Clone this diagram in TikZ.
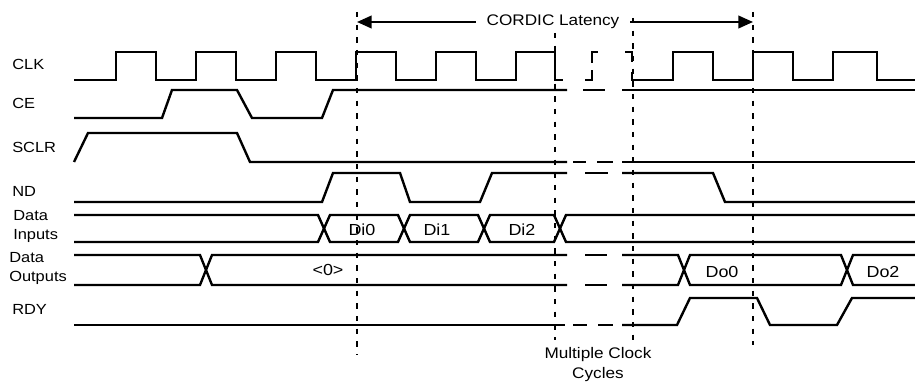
\documentclass[tikz,border=0pt]{standalone}
\usepackage{fontspec}
\setmainfont[FakeStretch=1.12]{Liberation Sans}
\usetikzlibrary{arrows.meta, positioning, calc}

\begin{document}
\begin{tikzpicture}[
  x=0.75pt, y=-0.75pt,
  wave/.style={line width=1.8pt, line join=miter},
  marker/.style={line width=1.8pt, dash pattern=on 4pt off 5.5pt},
  siglabel/.style={anchor=west, align=left, inner sep=0pt, font=\fontsize{11}{14}\selectfont},
  value/.style={inner sep=0pt, font=\fontsize{12}{14}\selectfont},
  note/.style={align=center, inner sep=0pt, font=\fontsize{11.5}{15}\selectfont}
]
  \useasboundingbox (0,0) rectangle (915,385);

  % signal names
  \node[siglabel] (clk) at (12,64) {CLK};
  \node[siglabel] (ce) at (12,103) {CE};
  \node[siglabel] (sclr) at (12,147) {SCLR};
  \node[siglabel] (nd) at (12,191) {ND};
  \node[siglabel, anchor=north west] (din) at (13,210) {Data\\Inputs};
  \node[siglabel, anchor=north west] (dout) at (9,252) {Data\\Outputs};
  \node[siglabel] (rdy) at (12,309) {RDY};

  % marker lines
  \draw[marker] (357,12) -- (357,355);
  \draw[marker] (555,33) -- (555,340);
  \draw[marker] (633,18) -- (633,345);
  \draw[marker] (753,12) -- (753,345);

  % latency arrow
  \coordinate (latstart) at (357,22);
  \coordinate (latend) at (753,22);
  \node[inner xsep=8pt, inner ysep=0pt, font=\fontsize{11.5}{14}\selectfont] (latency) at (553,22) {CORDIC Latency};
  \draw[line width=1.5pt, -{Triangle[length=11pt, width=9.5pt]}] (latency) -- (latstart);
  \draw[line width=1.5pt, -{Triangle[length=11pt, width=9.5pt]}] (latency) -- (latend);

  % CLK
  \draw[wave] (74,80) -| (116,52) -| (156,80) -| (196,52) -| (236,80) -| (276,52) -| (316,80)
    -| (356,52) -| (396,80) -| (436,52) -| (476,80) -| (516,52) -| (555,80) -- (563,80);
  \draw[wave] (585,80) -| (592,70);
  \draw[wave] (592,63) |- (598,52);
  \draw[wave] (625,52) -| (632,62);
  \draw[wave] (632,72) -- (632,80) -| (673,52) -| (713,80) -| (753,52) -| (793,80) -| (833,52)
    -| (877,80) -- (915,80);

  % CE
  \draw[wave] (74,118) -- (162,118) -- (172,90) -- (237,90) -- (252,118) -- (322,118) -- (333,90) -- (567,90);
  \draw[wave] (583,90) -- (605,90);
  \draw[wave] (622,90) -- (915,90);

  % SCLR
  \draw[wave] (74,162) -- (88,133) -- (237,133) -- (250,162) -- (567,162);
  \draw[wave] (573,162) -- (586,162);
  \draw[wave] (597,162) -- (613,162);
  \draw[wave] (622,162) -- (915,162);

  % ND
  \draw[wave] (74,202) -- (322,202) -- (333,173) -- (400,173) -- (410,202) -- (480,202) -- (492,173) -- (567,173);
  \draw[wave] (585,173) -- (608,173);
  \draw[wave] (622,173) -- (713,173) -- (725,202) -- (915,202);

  % Data Inputs
  \draw[wave] (74,215) -- (318,215) -- (324,228.5) -- (318,242) -- (74,242);
  \draw[wave] (324,228.5) -- (330,215) -- (398,215) -- (404,228.5) -- (398,242) -- (330,242) -- cycle;
  \draw[wave] (404,228.5) -- (410,215) -- (478,215) -- (484,228.5) -- (478,242) -- (410,242) -- cycle;
  \draw[wave] (484,228.5) -- (490,215) -- (554,215) -- (560,228.5) -- (554,242) -- (490,242) -- cycle;
  \draw[wave] (915,215) -- (566,215) -- (560,228.5) -- (566,242) -- (915,242);
  \node[value] (di0) at (362,230) {Di0};
  \node[value] (di1) at (437,230) {Di1};
  \node[value] (di2) at (522,230) {Di2};

  % Data Outputs
  \draw[wave] (74,255) -- (200,255) -- (206,270) -- (200,285) -- (74,285);
  \draw[wave] (567,255) -- (212,255) -- (206,270) -- (212,285) -- (567,285);
  \draw[wave] (585,255) -- (607,255);
  \draw[wave] (585,285) -- (607,285);
  \draw[wave] (622,255) -- (678,255) -- (684,270) -- (678,285) -- (622,285);
  \draw[wave] (684,270) -- (690,255) -- (841,255) -- (847,270) -- (841,285) -- (690,285) -- cycle;
  \draw[wave] (915,255) -- (853,255) -- (847,270) -- (853,285) -- (915,285);
  \node[value] (dzero) at (328,270) {<0>};
  \node[value] (do0) at (722,272) {Do0};
  \node[value] (do2) at (883,272) {Do2};

  % RDY
  \draw[wave] (74,325) -- (565,325);
  \draw[wave] (573,325) -- (587,325);
  \draw[wave] (598,325) -- (613,325);
  \draw[wave] (622,325) -- (677,325) -- (690,298) -- (757,298) -- (770,325) -- (837,325) -- (852,298) -- (915,298);

  \node[note, anchor=north] (cycles) at (598,347) {Multiple Clock\\Cycles};
\end{tikzpicture}
\end{document}
